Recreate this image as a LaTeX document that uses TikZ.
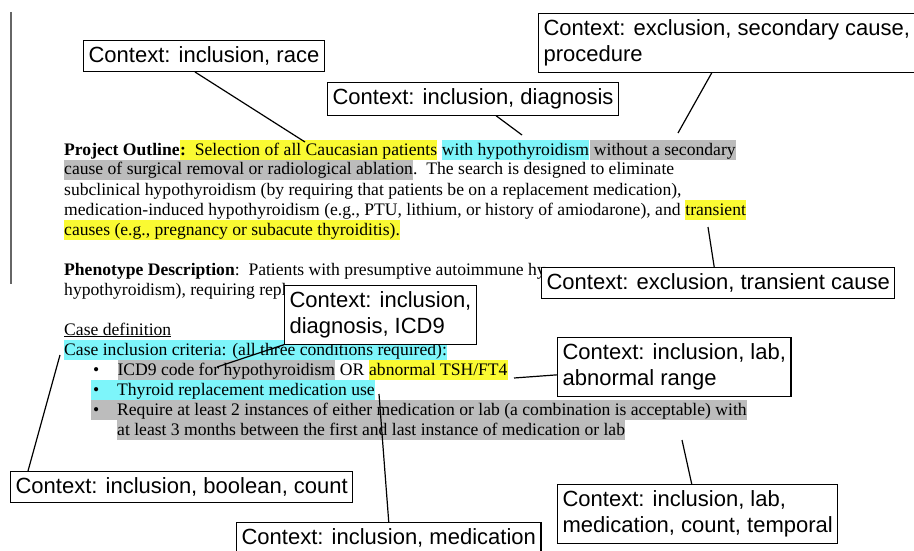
\documentclass[tikz,border=0pt]{standalone}
\usepackage{fontspec}
\setmainfont{Liberation Serif}
\newfontfamily\calloutfont{Liberation Sans}
\usepackage{tikz}
\usetikzlibrary{positioning}
\definecolor{markyellow}{RGB}{250,250,50}
\definecolor{markcyan}{RGB}{125,245,250}
\definecolor{markgray}{RGB}{188,188,188}
\tikzset{
    doctext/.style={
        inner sep=0pt,
        text height=15pt,
        text depth=5pt,
        font=\fontsize{17.6}{20}\selectfont
    },
    hlyellow/.style={doctext, fill=markyellow},
    hlcyan/.style={doctext, fill=markcyan},
    hlgray/.style={doctext, fill=markgray},
    callout/.style={
        rectangle,
        draw=black,
        fill=white,
        line width=1.2pt,
        align=left,
        inner xsep=5pt,
        inner ysep=6pt,
        anchor=north west,
        font=\calloutfont\fontsize{22}{26}\selectfont
    },
    link/.style={
        line width=1.2pt
    }
}
\newcommand{\bulletbox}{\makebox[26pt][l]{\hspace{2pt}\textbullet}}

\begin{document}
\begin{tikzpicture}[x=1pt,y=-1pt]
    \useasboundingbox (0,0) rectangle (914,551);
    \draw [line width=1.2pt, black!60] (11,12) -- (11,284);

    % project outline
    \node (po) [doctext, anchor=base west] at (64,155) {\textbf{Project Outline}};
    \node (po1) [hlyellow, base right=0pt of po] {\textbf{:}\ \ Selection of all Caucasian patients};
    \node (po2) [hlcyan, base right=4.4pt of po1] {with hypothyroidism};
    \node (po3) [hlgray, base right=0pt of po2] {\ without a secondary};
    \node (cs) [hlgray, anchor=base west] at (64,175) {cause of surgical removal or radiological ablation};
    \node (cs1) [doctext, base right=0pt of cs] {.\ \ The search is designed to eliminate};
    \node (sub) [doctext, anchor=base west] at (64,195) {subclinical hypothyroidism (by requiring that patients be on a replacement medication),};
    \node (mi) [doctext, anchor=base west] at (64,215) {medication-induced hypothyroidism (e.g., PTU, lithium, or history of amiodarone), and};
    \node (tr) [hlyellow, base right=4.4pt of mi] {transient};
    \node (tr2) [hlyellow, anchor=base west] at (64,235) {causes (e.g., pregnancy or subacute thyroiditis).};

    % phenotype
    \node (pd) [doctext, anchor=base west] at (64,275) {\textbf{Phenotype Description}:\ \ Patients with presumptive autoimmune hy};
    \node (pd2) [doctext, anchor=base west] at (64,295) {hypothyroidism), requiring repl};

    % case definition
    \node (cd) [doctext, anchor=base west] at (64,335) {\underline{Case definition}};
    \node (ci) [hlcyan, anchor=base west] at (64,355) {Case inclusion criteria: (all three conditions required):};
    \node (b1) [doctext, anchor=base west] at (91,375) {\bulletbox};
    \node (icd) [hlgray, base right=0pt of b1] {ICD9 code for hypothyroidism};
    \node (or) [doctext, base right=4.4pt of icd] {OR};
    \node (tsh) [hlyellow, base right=4.4pt of or] {abnormal TSH/FT4};
    \node (thy) [hlcyan, anchor=base west] at (91,395) {\bulletbox Thyroid replacement medication use};
    \node (req) [hlgray, anchor=base west] at (91,415) {\bulletbox Require at least 2 instances of either medication or lab (a combination is acceptable) with};
    \node (req2) [hlgray, anchor=base west] at (117,435) {at least 3 months between the first and last instance of medication or lab};

    % callouts
    \node (race) [callout] at (83,40) {Context: inclusion, race};
    \node (diag) [callout] at (327,82) {Context: inclusion, diagnosis};
    \node (sec) [callout] at (538,13) {Context: exclusion, secondary cause,\\procedure};
    \node (trans) [callout] at (541,267) {Context: exclusion, transient cause};
    \node (icdbox) [callout] at (284,285) {Context: inclusion,\\diagnosis, ICD9};
    \node (range) [callout] at (557,337) {Context: inclusion, lab,\\abnormal range};
    \node (bool) [callout] at (10,471) {Context: inclusion, boolean, count};
    \node (medbox) [callout] at (236,522) {Context: inclusion, medication};
    \node (temp) [callout] at (557,484) {Context: inclusion, lab,\\medication, count, temporal};

    \coordinate (raceT) at (305,142);
    \coordinate (diagT) at (522,135);
    \coordinate (secT) at (678,133);
    \coordinate (transT) at (708,227);
    \coordinate (icdT) at (217,367);
    \coordinate (tshT) at (514,378);
    \coordinate (boolT) at (60,355);
    \coordinate (medT) at (379,394);
    \coordinate (tempT) at (682,440);

    \draw [link] ([xshift=-9pt]race.south) -- (raceT);
    \draw [link] ([xshift=23pt]diag.south) -- (diagT);
    \draw [link] ([xshift=-15pt]sec.south) -- (secT);
    \draw [link] ([xshift=-4pt]trans.north) -- (transT);
    \draw [link] (icdbox.south west) -- (icdT);
    \draw [link] ([yshift=-8pt]range.west) -- (tshT);
    \draw [link] ([xshift=18pt]bool.north west) -- (boolT);
    \draw [link] (medbox.north) -- (medT);
    \draw [link] ([xshift=-6pt]temp.north) -- (tempT);
\end{tikzpicture}
\end{document}
